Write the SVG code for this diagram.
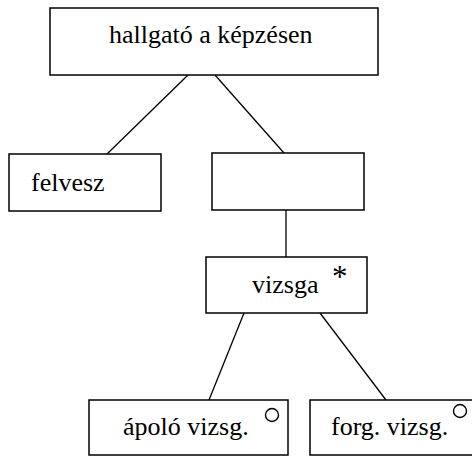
<svg xmlns="http://www.w3.org/2000/svg" width="472" height="459" viewBox="0 0 472 459">
<style>
rect{fill:#fff;stroke:#000;stroke-width:1.5}
text{font-family:"Liberation Serif","Times New Roman",serif;font-size:26px;fill:#000}
.c line{stroke:#000;stroke-width:1.3}
.o{fill:none;stroke:#000;stroke-width:1.4}
</style>
<rect x="0" y="0" width="472" height="459" style="stroke:none"/>
<g class="c" id="connectors">
<line x1="188" y1="75" x2="107" y2="154"/>
<line x1="215" y1="75" x2="284" y2="153"/>
<line x1="286" y1="210" x2="286" y2="257"/>
<line x1="244" y1="313" x2="209" y2="400"/>
<line x1="320" y1="313" x2="386" y2="400"/>
</g>
<g id="n-hallgato"><rect x="50" y="8" width="328" height="67"/><text x="109" y="43">hallgató a képzésen</text></g>
<g id="n-felvesz"><rect x="9" y="154" width="152" height="57"/><text x="31" y="191">felvesz</text></g>
<g id="n-empty"><rect x="212" y="153" width="152" height="57"/></g>
<g id="n-vizsga"><rect x="206" y="257" width="161" height="56"/><text x="252" y="293">vizsga</text><text x="332" y="287" style="font-size:31px">*</text></g>
<g id="n-apolo"><rect x="89" y="400" width="199" height="55"/><text x="123" y="435">ápoló vizsg.</text><circle class="o" cx="272" cy="415" r="6.5"/></g>
<g id="n-forg"><rect x="310" y="400" width="175" height="55"/><text x="331" y="435">forg. vizsg.</text><circle class="o" cx="460" cy="411" r="6.5"/></g>
</svg>
